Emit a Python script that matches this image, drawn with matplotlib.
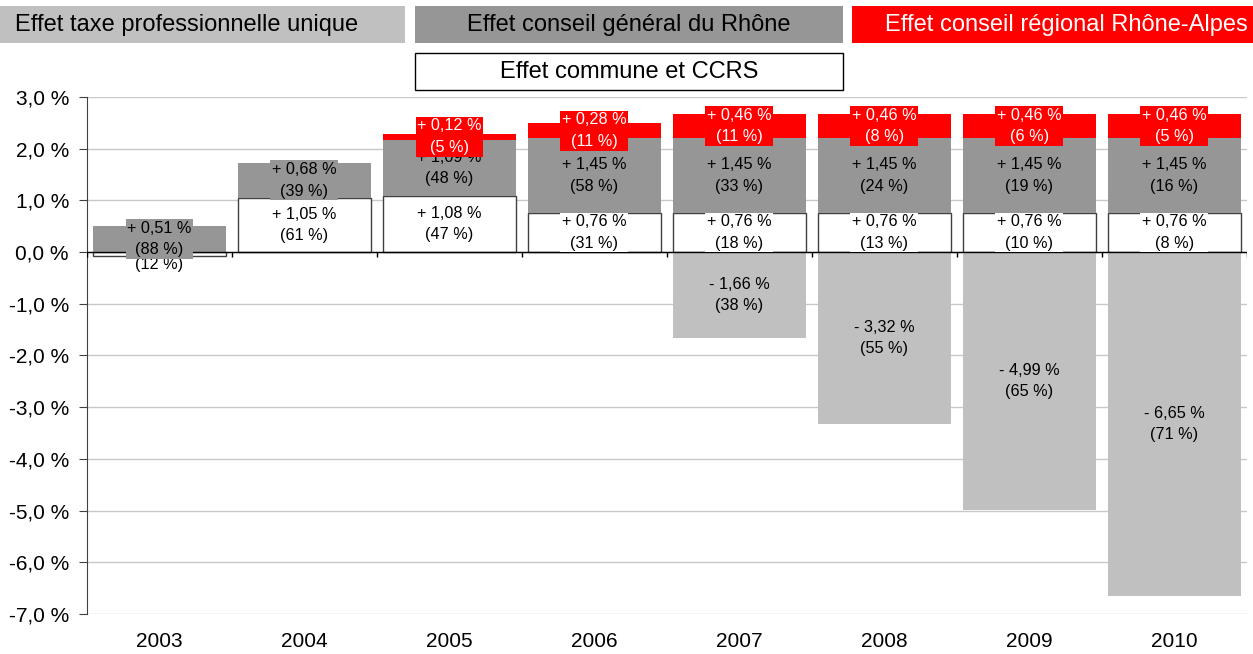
import matplotlib.pyplot as plt
import matplotlib.patches as mpatches
from matplotlib.ticker import FuncFormatter, MultipleLocator
import numpy as np

plt.rcParams['font.family'] = ['Liberation Sans', 'DejaVu Sans']

years = ["2003", "2004", "2005", "2006", "2007", "2008", "2009", "2010"]
# contributions in points of %, and share of total effect (labels)
commune = [-0.07, 1.05, 1.08, 0.76, 0.76, 0.76, 0.76, 0.76]
commune_pct = [12, 61, 47, 31, 18, 13, 10, 8]
cg = [0.51, 0.68, 1.09, 1.45, 1.45, 1.45, 1.45, 1.45]
cg_pct = [88, 39, 48, 58, 33, 24, 19, 16]
cr = [0, 0, 0.12, 0.28, 0.46, 0.46, 0.46, 0.46]
cr_pct = [0, 0, 5, 11, 11, 8, 6, 5]
tpu = [0, 0, 0, 0, -1.66, -3.32, -4.99, -6.65]
tpu_pct = [0, 0, 0, 0, 38, 55, 65, 71]

C_TPU = "#c0c0c0"
C_CG = "#969696"
C_CR = "#ff0000"
C_COM = "#ffffff"


def fmt_val(v):
    sign = "+" if v >= 0 else "-"
    return "%s %s %%" % (sign, ("%.2f" % abs(v)).replace(".", ","))


fig = plt.figure(figsize=(12.53, 6.54), dpi=100)
ax = fig.add_axes([0.0694, 0.0612, 0.9256, 0.7905])

x = np.arange(len(years))
w = 0.92
commune = np.array(commune)
cg = np.array(cg)
cr = np.array(cr)
tpu = np.array(tpu)

com_pos = np.where(commune > 0, commune, 0)
ax.bar(x, commune, w, color=C_COM, edgecolor="#404040", linewidth=1, zorder=3)
ax.bar(x, cg, w, bottom=com_pos, color=C_CG, zorder=3)
ax.bar(x, cr, w, bottom=com_pos + cg, color=C_CR, zorder=3)
ax.bar(x, tpu, w, color=C_TPU, zorder=3)

lab_kw = dict(ha="center", va="center", fontsize=11.7, linespacing=1.55)


def label(xi, yc, v, p, color, tcolor, z):
    ax.text(xi, yc, "%s\n(%d %%)" % (fmt_val(v), p), color=tcolor, zorder=z,
            bbox=dict(boxstyle="square,pad=0.1", fc=color, ec="none"), **lab_kw)


for i in range(len(years)):
    if commune[i] != 0:
        label(x[i], commune[i] / 2, commune[i], commune_pct[i], C_COM, "black", 5)
    if tpu[i] != 0:
        label(x[i], tpu[i] / 2, tpu[i], tpu_pct[i], C_TPU, "black", 5)
    if cg[i] != 0:
        label(x[i], com_pos[i] + cg[i] / 2, cg[i], cg_pct[i], C_CG, "black", 6)
    if cr[i] != 0:
        label(x[i], com_pos[i] + cg[i] + cr[i] / 2, cr[i], cr_pct[i], C_CR, "white", 7)

ax.set_xlim(-0.5, len(years) - 0.5)
ax.set_ylim(-7, 3)
ax.yaxis.set_major_locator(MultipleLocator(1))
ax.yaxis.set_major_formatter(FuncFormatter(lambda v, _: ("%.1f %%" % v).replace(".", ",")))
ax.grid(axis="y", color="#c8c8c8", linewidth=1, zorder=0)
ax.set_axisbelow(True)

for s in ["top", "right", "bottom"]:
    ax.spines[s].set_visible(False)
ax.spines["left"].set_color("#404040")
ax.tick_params(axis="y", direction="out", length=6, color="#404040", labelsize=15, pad=7)
ax.set_xticks(x)
ax.set_xticklabels(years)
ax.tick_params(axis="x", length=0, labelsize=15, pad=13)

# zero axis line with category separators
ax.axhline(0, color="black", linewidth=1, zorder=4)
bounds = np.arange(len(years) + 1) - 0.5
ax.vlines(bounds, -0.1, 0, color="black", linewidth=1, zorder=4)


# legend boxes
def legend_box(x0, y0, w0, h0, fc, text, tc, tx, ec="none"):
    fig.patches.append(mpatches.Rectangle((x0 / 1253, 1 - (y0 + h0) / 654), w0 / 1253, h0 / 654,
                                          transform=fig.transFigure, fc=fc, ec=ec, lw=1))
    fig.text(tx / 1253, 1 - (y0 + h0 / 2) / 654, text, color=tc,
             ha="center", va="center", fontsize=17)


legend_box(0, 6, 405, 37, C_TPU, "Effet taxe professionnelle unique", "black", 187)
legend_box(415, 6, 428, 37, C_CG, "Effet conseil général du Rhône", "black", 629)
legend_box(852, 6, 401, 37, C_CR, "Effet conseil régional Rhône-Alpes", "white", 1066)
legend_box(415, 53, 428, 37, C_COM, "Effet commune et CCRS", "black", 629, ec="black")

fig.savefig("out.png", dpi=100)
